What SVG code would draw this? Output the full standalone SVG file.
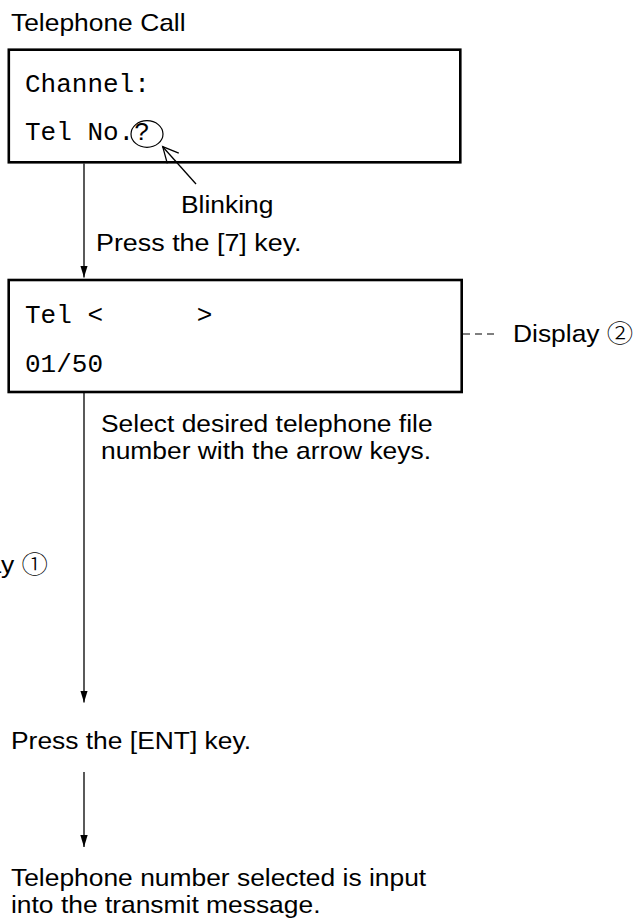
<svg xmlns="http://www.w3.org/2000/svg" width="635" height="919" viewBox="0 0 635 919">
  <style>
    .t { font-family: "Liberation Sans", Arial, "Noto Sans CJK JP", sans-serif; font-size: 24px; fill: #000; }
    .c { font-family: "Noto Sans CJK JP", "DejaVu Sans", sans-serif; font-weight: 300; }
    .m { font-family: "Liberation Mono", "Courier New", monospace; font-size: 26px; fill: #000; white-space: pre; }
    .box { fill: #fff; stroke: #000; stroke-width: 2.6; }
    .conn { fill: none; stroke: #000; stroke-width: 1.3; }
    .dash { fill: none; stroke: #000; stroke-width: 1.1; stroke-dasharray: 7 5; }
  </style>
  <defs>
    <marker id="arrow" markerUnits="userSpaceOnUse" markerWidth="13" markerHeight="8" refX="12" refY="4" orient="auto">
      <path d="M0,0.3 L12,4 L0,7.7 Z" fill="#000"/>
    </marker>
    <marker id="openarrow" markerUnits="userSpaceOnUse" markerWidth="20" markerHeight="20" refX="17" refY="9" orient="auto" overflow="visible">
      <path d="M1.5,1.3 L17,9 L1.5,16.7" fill="none" stroke="#000" stroke-width="1.3"/>
    </marker>
  </defs>
  <rect width="635" height="919" fill="#fff"/>

  <g id="title">
    <text class="t" transform="translate(11,30.5) scale(1.1,1)">Telephone Call</text>
  </g>

  <g id="screen1">
    <rect class="box" x="8.8" y="49.7" width="451.5" height="112.6"/>
    <text class="m" x="25" y="92">Channel:</text>
    <text class="m" x="25" y="140">Tel No.?</text>
    <ellipse cx="147" cy="134" rx="16" ry="13.3" fill="none" stroke="#000" stroke-width="1.2"/>
  </g>

  <g id="blinking-note">
    <text class="t" transform="translate(181,213) scale(1.1,1)">Blinking</text>
  </g>

  <g id="step-press7">
    <text class="t" transform="translate(96,250.5) scale(1.12,1)">Press the [7] key.</text>
  </g>

  <g id="screen2">
    <rect class="box" x="8.7" y="280" width="453" height="112"/>
    <text class="m" x="25" y="323" xml:space="preserve">Tel &lt;      &gt;</text>
    <text class="m" x="25" y="372">01/50</text>
  </g>

  <g id="display2-label">
    <text class="t" transform="translate(513,342) scale(1.1,1)">Display <tspan class="c">②</tspan></text>
  </g>

  <g id="step-select">
    <text class="t" transform="translate(101,432) scale(1.1,1)">Select desired telephone file</text>
    <text class="t" transform="translate(101,459) scale(1.1,1)">number with the arrow keys.</text>
  </g>

  <g id="display1-label">
    <text class="t" text-anchor="end" transform="translate(48,573) scale(1.1,1)">Display <tspan class="c">①</tspan></text>
  </g>

  <g id="step-ent">
    <text class="t" transform="translate(11,749) scale(1.1,1)">Press the [ENT] key.</text>
  </g>

  <g id="result">
    <text class="t" transform="translate(11,886) scale(1.1,1)">Telephone number selected is input</text>
    <text class="t" transform="translate(11,913) scale(1.1,1)">into the transmit message.</text>
  </g>

  <g id="connectors">
    <line class="conn" x1="84" y1="163.5" x2="84" y2="277.5" marker-end="url(#arrow)"/>
    <line class="conn" x1="84" y1="393" x2="84" y2="702.5" marker-end="url(#arrow)"/>
    <line class="conn" x1="84" y1="772" x2="84" y2="847" marker-end="url(#arrow)"/>
    <line class="conn" x1="196" y1="184" x2="162.7" y2="146.7" marker-end="url(#openarrow)"/>
    <line class="dash" x1="463" y1="334" x2="499" y2="334"/>
  </g>
</svg>
